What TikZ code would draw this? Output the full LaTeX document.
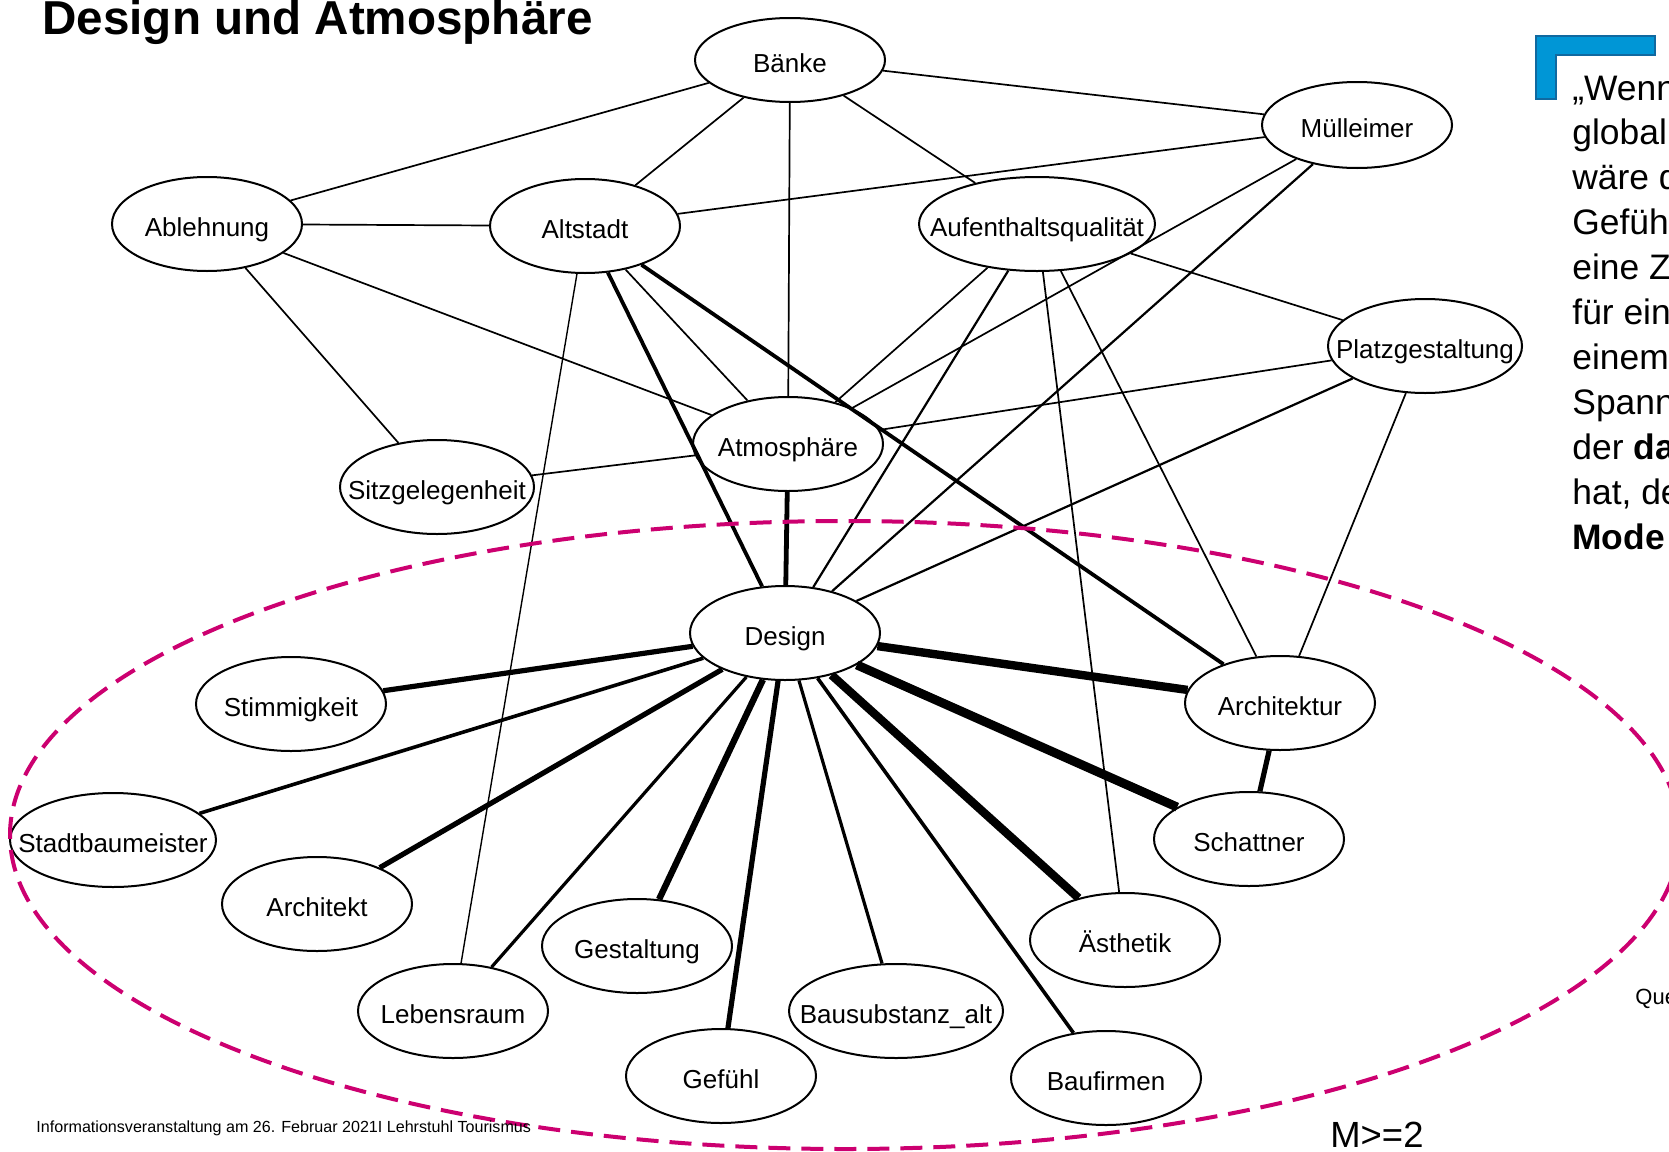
\documentclass[tikz,border=0pt]{standalone}
\usepackage{fontspec}
\setmainfont{Liberation Sans}
\usetikzlibrary{shapes.geometric}
\definecolor{ringpink}{RGB}{204,0,112}
\definecolor{barfill}{RGB}{0,150,214}
\definecolor{barline}{RGB}{16,105,160}
% label of fixed-size ellipse: text takes no room, baseline sits a little below the centre
\newcommand{\lbl}[1]{\raisebox{-6pt}[0pt][0pt]{\makebox[0pt]{#1}}}
\begin{document}
\begin{tikzpicture}[x=0.5pt,y=-0.5pt,
  term/.style={ellipse, draw, line width=1pt, fill=white, inner sep=0pt,
    minimum width=95pt, minimum height=47pt, font=\fontsize{13}{15}\selectfont},
  wide/.style={term, minimum width=#1},
  link/.style={line width=0.85pt},
  linkw/.style={line width=#1},
  ring/.style={draw=ringpink, line width=2pt, dash pattern=on 11pt off 5.5pt},
  quote/.style={anchor=base west, inner sep=0pt, font=\fontsize{17.7}{20}\selectfont}]
\useasboundingbox (0,0) rectangle (1669,1151);

% title
\node[anchor=base west, inner sep=0pt, font=\fontsize{23.8}{28}\selectfont\bfseries] (title) at (42,34) {Design und Atmosphäre};

% concepts
\node[term, minimum height=42pt] (baenke) at (790,60) {\lbl{Bänke}};
\node[term, minimum height=43pt] (muell) at (1357,125) {\lbl{Mülleimer}};
\node[term] (ablehnung) at (207,224) {\lbl{Ablehnung}};
\node[term] (altstadt) at (585,226) {\lbl{Altstadt}};
\node[wide=118pt] (aufent) at (1037,224) {\lbl{Aufenthaltsqualität}};
\node[wide=97pt] (platz) at (1425,346) {\lbl{Platzgestaltung}};
\node[term] (atmo) at (788,444) {\lbl{Atmosphäre}};
\node[wide=97pt] (sitz) at (437,487) {\lbl{Sitzgelegenheit}};
\node[term] (design) at (785,633) {\lbl{Design}};
\node[term] (stimm) at (291,704) {\lbl{Stimmigkeit}};
\node[term] (architektur) at (1280,703) {\lbl{Architektur}};
\node[wide=103pt] (stadtb) at (113,840) {\lbl{Stadtbaumeister}};
\node[term] (schattner) at (1249,839) {\lbl{Schattner}};
\node[term] (architekt) at (317,904) {\lbl{Architekt}};
\node[term] (aesthetik) at (1125,940) {\lbl{Ästhetik}};
\node[term] (gestaltung) at (637,946) {\lbl{Gestaltung}};
\node[term] (lebensraum) at (453,1011) {\lbl{Lebensraum}};
\node[wide=107pt] (bausub) at (896,1011) {\lbl{Bausubstanz\_alt}};
\node[term] (gefuehl) at (721,1076) {\lbl{Gefühl}};
\node[term] (baufirmen) at (1106,1078) {\lbl{Baufirmen}};

% thin links
\draw[link] (baenke) -- (ablehnung);
\draw[link] (baenke) -- (altstadt);
\draw[link] (baenke) -- (atmo);
\draw[link] (baenke) -- (aufent);
\draw[link] (baenke) -- (muell);
\draw[link] (muell) -- (altstadt);
\draw[link] (muell) -- (atmo);
\draw[link] (ablehnung) -- (altstadt);
\draw[link] (ablehnung) -- (atmo);
\draw[link] (ablehnung) -- (sitz);
\draw[link] (altstadt) -- (atmo);
\draw[linkw=0.7pt] (altstadt) -- (lebensraum);
\draw[link] (aufent) -- (atmo);
\draw[link] (aufent) -- (aesthetik);
\draw[link] (aufent) -- (architektur);
\draw[link] (aufent) -- (platz);
\draw[link] (platz) -- (atmo);
\draw[link] (platz) -- (architektur);
\draw[link] (sitz) -- (atmo);

% weighted links
\draw[linkw=1.1pt] (muell) -- (design);
\draw[linkw=1.1pt] (aufent) -- (design);
\draw[linkw=1.1pt] (platz) -- (design);
\draw[linkw=1.9pt] (altstadt) -- (design);
\draw[linkw=1.9pt] (altstadt) -- (architektur);
\draw[linkw=2.4pt] (atmo) -- (design);
\draw[linkw=2.6pt] (design) -- (stimm);
\draw[linkw=1.8pt] (design) -- (stadtb);
\draw[linkw=2.6pt] (design) -- (architekt);
\draw[linkw=1.6pt] (design) -- (lebensraum);
\draw[linkw=3.2pt] (design) -- (gestaltung);
\draw[linkw=2.6pt] (design) -- (gefuehl);
\draw[linkw=1.6pt] (design) -- (bausub);
\draw[linkw=1.8pt] (design) -- (baufirmen);
\draw[linkw=4.2pt] (design) -- (aesthetik);
\draw[linkw=4.5pt] (design) -- (schattner);
\draw[linkw=4.2pt] (design) -- (architektur);
\draw[linkw=2.6pt] (architektur) -- (schattner);

% dashed cluster outline
\coordinate (ringc) at (845,835);
\draw[ring] (ringc) ellipse [x radius=417.5pt, y radius=157pt];

% blue corner mark and quotation
\filldraw[fill=barfill, draw=barline, line width=1pt]
  (1536,36) -- (1655,36) -- (1655,55) -- (1556,55) -- (1556,99) -- (1536,99) -- cycle;
\foreach \t [count=\i from 0] in {„Wenn, global, wäre d, Gefüh, eine Z, für ein, einem, Spann, {der \textbf{da}}, {hat, de}, \textbf{Mode}}
  \node[quote] (q\i) at (1572,100+44.9*\i) {\t};

% footer and side notes
\node[anchor=base west, inner sep=0pt, font=\fontsize{8.05}{9}\selectfont] (footer) at (36,1132)
  {Informationsveranstaltung am 26. Februar 2021I Lehrstuhl Tourismus};
\node[anchor=base west, inner sep=0pt, font=\fontsize{11}{13}\selectfont] (src) at (1635,1004) {Que};
\node[anchor=base west, inner sep=0pt, font=\fontsize{18.2}{21}\selectfont] (mcount) at (1330,1147) {M>=2};
\end{tikzpicture}
\end{document}
